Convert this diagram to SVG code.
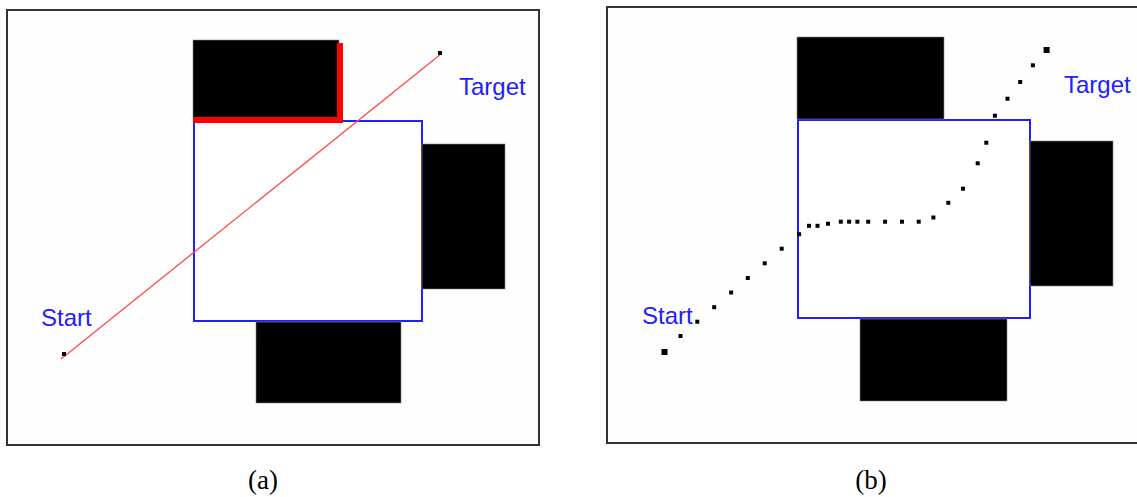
<svg xmlns="http://www.w3.org/2000/svg" width="1137" height="497" viewBox="0 0 1137 497">
<style>
.frame{fill:#fefefe;stroke:#333;stroke-width:2}
.blk{fill:#000;stroke:#888;stroke-width:0.6}
.free{fill:#fff;stroke:#1f1fff;stroke-width:2}
.lbl{font-family:"Liberation Sans",Arial,sans-serif;font-size:24px;fill:#2020ff}
.cap{font-family:"Liberation Serif","Times New Roman",serif;font-size:27px;fill:#000;text-anchor:middle}
.d{fill:#000}
</style>
<defs>
<rect id="dot" x="-2" y="-2" width="4" height="4"/>
<rect id="big" x="-3" y="-3" width="6" height="6"/>
</defs>
<g id="panel-a">
<rect class="frame" x="7" y="10" width="532" height="435"/>
<g id="a-free"><rect class="free" x="194" y="121" width="228" height="200"/></g>
<g id="a-obstacle-top"><rect class="blk" x="193" y="40" width="146" height="78"/></g>
<g id="a-obstacle-right"><rect class="blk" x="422" y="144" width="83" height="145"/></g>
<g id="a-obstacle-bottom"><rect class="blk" x="256" y="322" width="145" height="81"/></g>
<g id="a-connectors">
<path d="M193 120 H340 V43" fill="none" stroke="#ff0000" stroke-width="6"/>
<line x1="61" y1="359" x2="441" y2="54" stroke="#ff4a4a" stroke-width="1.3"/>
</g>
<g id="a-start"><use href="#dot" x="64" y="354"/><text class="lbl" x="41" y="326">Start</text></g>
<g id="a-target"><use href="#dot" x="440" y="53"/><text class="lbl" x="459" y="95">Target</text></g>
<text class="cap" x="263" y="489">(a)</text>
</g>
<g id="panel-b">
<rect class="frame" x="607" y="7" width="540" height="436"/>
<g id="b-free"><rect class="free" x="798" y="120" width="232" height="198"/></g>
<g id="b-obstacle-top"><rect class="blk" x="797" y="37" width="147" height="82"/></g>
<g id="b-obstacle-right"><rect class="blk" x="1030" y="141" width="83" height="145"/></g>
<g id="b-obstacle-bottom"><rect class="blk" x="860" y="319" width="147" height="82"/></g>
<g id="b-connectors" class="d">
<use href="#dot" x="680.5" y="336"/>
<use href="#dot" x="697.3" y="321.7"/>
<use href="#dot" x="714.2" y="307.2"/>
<use href="#dot" x="731.1" y="292.5"/>
<use href="#dot" x="747.8" y="278"/>
<use href="#dot" x="764.7" y="263.3"/>
<use href="#dot" x="781.7" y="248.7"/>
<use href="#dot" x="799.1" y="234.2"/>
<use href="#dot" x="809" y="225.8"/>
<use href="#dot" x="817.5" y="225.8"/>
<use href="#dot" x="828" y="223.7"/>
<use href="#dot" x="840.8" y="221.7"/>
<use href="#dot" x="849.1" y="221.7"/>
<use href="#dot" x="857.4" y="221.7"/>
<use href="#dot" x="868.2" y="221.7"/>
<use href="#dot" x="885.1" y="221.7"/>
<use href="#dot" x="902" y="221.7"/>
<use href="#dot" x="918.7" y="221.7"/>
<use href="#dot" x="933.4" y="217.5"/>
<use href="#dot" x="948.3" y="202.8"/>
<use href="#dot" x="963" y="188.7"/>
<use href="#dot" x="977.7" y="163.3"/>
<use href="#dot" x="986.3" y="142.7"/>
<use href="#dot" x="994.9" y="115.7"/>
<use href="#dot" x="1007.5" y="98.7"/>
<use href="#dot" x="1020.2" y="82"/>
<use href="#dot" x="1032.9" y="65.3"/>
</g>
<g id="b-start"><use href="#big" x="664.5" y="352"/><text class="lbl" x="642" y="324">Start</text></g>
<g id="b-target"><use href="#big" x="1046.6" y="50"/><text class="lbl" x="1064" y="93">Target</text></g>
<text class="cap" x="871" y="489">(b)</text>
</g>
</svg>
